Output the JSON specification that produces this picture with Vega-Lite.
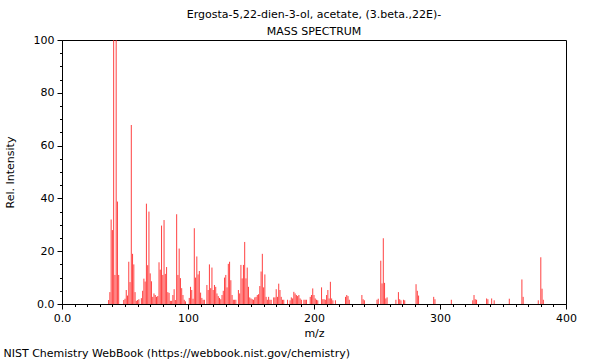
{
  "$schema": "https://vega.github.io/schema/vega-lite/v6.json",
  "width": 504,
  "height": 264,
  "autosize": {"type": "none"},
  "padding": {"left": 62, "top": 40, "right": 34, "bottom": 56},
  "background": "white",
  "config": {
    "view": {"stroke": "black", "strokeWidth": 1},
    "font": "DejaVu Sans",
    "title": {"lineHeight": 17},
    "axis": {"labelFont": "DejaVu Sans", "titleFont": "DejaVu Sans", "labelColor": "black", "titleColor": "black", "tickColor": "black", "domainColor": "black", "grid": false, "labelFontSize": 11, "titleFontSize": 11, "titleFontWeight": "normal"}
  },
  "title": {
    "text": ["Ergosta-5,22-dien-3-ol, acetate, (3.beta.,22E)-", "MASS SPECTRUM"],
    "font": "DejaVu Sans",
    "fontSize": 11,
    "fontWeight": "normal",
    "color": "black",
    "anchor": "middle",
    "offset": -3,
    "lineHeight": 17
  },
  "data": {
    "values": [
      {"mz": 37, "intensity": 1.5}, {"mz": 38, "intensity": 4.5}, {"mz": 39, "intensity": 32}, {"mz": 40, "intensity": 28},
      {"mz": 41, "intensity": 100}, {"mz": 42, "intensity": 11}, {"mz": 43, "intensity": 100}, {"mz": 44, "intensity": 38.8},
      {"mz": 45, "intensity": 11}, {"mz": 49, "intensity": 1.5}, {"mz": 50, "intensity": 2}, {"mz": 51, "intensity": 5.3},
      {"mz": 52, "intensity": 3.2}, {"mz": 53, "intensity": 16}, {"mz": 54, "intensity": 8.3}, {"mz": 55, "intensity": 67.8},
      {"mz": 56, "intensity": 19}, {"mz": 57, "intensity": 15}, {"mz": 58, "intensity": 4.5}, {"mz": 59, "intensity": 1.2},
      {"mz": 60, "intensity": 1.5}, {"mz": 61, "intensity": 1.8}, {"mz": 63, "intensity": 2.2}, {"mz": 64, "intensity": 5},
      {"mz": 65, "intensity": 9.6}, {"mz": 66, "intensity": 8.5}, {"mz": 67, "intensity": 38}, {"mz": 68, "intensity": 14.7},
      {"mz": 69, "intensity": 35}, {"mz": 70, "intensity": 11.6}, {"mz": 71, "intensity": 8.6}, {"mz": 72, "intensity": 2.7},
      {"mz": 73, "intensity": 4}, {"mz": 74, "intensity": 3.4}, {"mz": 75, "intensity": 2.7}, {"mz": 76, "intensity": 3},
      {"mz": 77, "intensity": 15.8}, {"mz": 78, "intensity": 13}, {"mz": 79, "intensity": 29.7}, {"mz": 80, "intensity": 11},
      {"mz": 81, "intensity": 31.8}, {"mz": 82, "intensity": 11.4}, {"mz": 83, "intensity": 14}, {"mz": 84, "intensity": 4.5},
      {"mz": 85, "intensity": 4.2}, {"mz": 86, "intensity": 1.2}, {"mz": 87, "intensity": 1.2}, {"mz": 88, "intensity": 3.4},
      {"mz": 89, "intensity": 5.6}, {"mz": 90, "intensity": 1.5}, {"mz": 91, "intensity": 34}, {"mz": 92, "intensity": 11},
      {"mz": 93, "intensity": 21}, {"mz": 94, "intensity": 9.8}, {"mz": 95, "intensity": 6}, {"mz": 96, "intensity": 3.4},
      {"mz": 97, "intensity": 1.6}, {"mz": 98, "intensity": 1}, {"mz": 101, "intensity": 2.3}, {"mz": 102, "intensity": 6.5},
      {"mz": 103, "intensity": 5.3}, {"mz": 104, "intensity": 2}, {"mz": 105, "intensity": 28.7}, {"mz": 106, "intensity": 10},
      {"mz": 107, "intensity": 18}, {"mz": 108, "intensity": 11.2}, {"mz": 109, "intensity": 12.5}, {"mz": 110, "intensity": 4.3},
      {"mz": 111, "intensity": 2.3}, {"mz": 112, "intensity": 1.6}, {"mz": 113, "intensity": 1.6}, {"mz": 115, "intensity": 7.2},
      {"mz": 116, "intensity": 5.3}, {"mz": 117, "intensity": 15}, {"mz": 118, "intensity": 6}, {"mz": 119, "intensity": 13.8},
      {"mz": 120, "intensity": 5.3}, {"mz": 121, "intensity": 7.2}, {"mz": 122, "intensity": 6.5}, {"mz": 123, "intensity": 4},
      {"mz": 124, "intensity": 3}, {"mz": 125, "intensity": 2.3}, {"mz": 126, "intensity": 1.8}, {"mz": 127, "intensity": 3.4},
      {"mz": 128, "intensity": 5}, {"mz": 129, "intensity": 10}, {"mz": 130, "intensity": 11}, {"mz": 131, "intensity": 6.3},
      {"mz": 132, "intensity": 15.2}, {"mz": 133, "intensity": 16}, {"mz": 134, "intensity": 9}, {"mz": 135, "intensity": 3.4},
      {"mz": 136, "intensity": 1.6}, {"mz": 137, "intensity": 1.6}, {"mz": 138, "intensity": 1.6}, {"mz": 140, "intensity": 5.3},
      {"mz": 141, "intensity": 4}, {"mz": 142, "intensity": 14.8}, {"mz": 143, "intensity": 9.7}, {"mz": 144, "intensity": 14.8},
      {"mz": 145, "intensity": 23.5}, {"mz": 146, "intensity": 9.7}, {"mz": 147, "intensity": 13.8}, {"mz": 148, "intensity": 6.5},
      {"mz": 149, "intensity": 2.5}, {"mz": 150, "intensity": 2.1}, {"mz": 151, "intensity": 1.8}, {"mz": 152, "intensity": 1.6},
      {"mz": 153, "intensity": 2.5}, {"mz": 154, "intensity": 2.7}, {"mz": 155, "intensity": 3.4}, {"mz": 156, "intensity": 3.7},
      {"mz": 157, "intensity": 6.8}, {"mz": 158, "intensity": 12.3}, {"mz": 159, "intensity": 19}, {"mz": 160, "intensity": 6.3},
      {"mz": 161, "intensity": 11.2}, {"mz": 162, "intensity": 2.7}, {"mz": 163, "intensity": 1.6}, {"mz": 164, "intensity": 2.7},
      {"mz": 165, "intensity": 1.6}, {"mz": 166, "intensity": 1.6}, {"mz": 168, "intensity": 2.5}, {"mz": 169, "intensity": 2.5},
      {"mz": 170, "intensity": 5.6}, {"mz": 171, "intensity": 2.7}, {"mz": 172, "intensity": 7.7}, {"mz": 173, "intensity": 5.3},
      {"mz": 174, "intensity": 2.7}, {"mz": 175, "intensity": 1.6}, {"mz": 176, "intensity": 1.6}, {"mz": 179, "intensity": 1.6},
      {"mz": 181, "intensity": 1.4}, {"mz": 182, "intensity": 2.5}, {"mz": 183, "intensity": 2.1}, {"mz": 184, "intensity": 4.6},
      {"mz": 185, "intensity": 4}, {"mz": 186, "intensity": 3.4}, {"mz": 187, "intensity": 3}, {"mz": 188, "intensity": 3.4},
      {"mz": 189, "intensity": 2.1}, {"mz": 190, "intensity": 1.6}, {"mz": 192, "intensity": 1.6}, {"mz": 193, "intensity": 1.6},
      {"mz": 194, "intensity": 1.6}, {"mz": 197, "intensity": 2.7}, {"mz": 198, "intensity": 3.4}, {"mz": 199, "intensity": 5.9},
      {"mz": 200, "intensity": 3.4}, {"mz": 201, "intensity": 2.1}, {"mz": 202, "intensity": 1.6}, {"mz": 203, "intensity": 1.4},
      {"mz": 206, "intensity": 6.3}, {"mz": 207, "intensity": 1.8}, {"mz": 208, "intensity": 1.8}, {"mz": 209, "intensity": 1.6},
      {"mz": 210, "intensity": 3.4}, {"mz": 211, "intensity": 5.3}, {"mz": 212, "intensity": 2.1}, {"mz": 213, "intensity": 8.4},
      {"mz": 214, "intensity": 2.1}, {"mz": 215, "intensity": 1.4}, {"mz": 217, "intensity": 1.4}, {"mz": 225, "intensity": 2.7},
      {"mz": 226, "intensity": 3.4}, {"mz": 227, "intensity": 3}, {"mz": 228, "intensity": 1.6}, {"mz": 238, "intensity": 3.4},
      {"mz": 239, "intensity": 1.8}, {"mz": 240, "intensity": 1.4}, {"mz": 250, "intensity": 1.6}, {"mz": 251, "intensity": 2},
      {"mz": 253, "intensity": 16.4}, {"mz": 254, "intensity": 7.8}, {"mz": 255, "intensity": 24.9}, {"mz": 256, "intensity": 8},
      {"mz": 257, "intensity": 2.1}, {"mz": 258, "intensity": 2.5}, {"mz": 265, "intensity": 1.6}, {"mz": 267, "intensity": 4.5},
      {"mz": 268, "intensity": 1.8}, {"mz": 269, "intensity": 1.4}, {"mz": 271, "intensity": 1.6}, {"mz": 272, "intensity": 1.4},
      {"mz": 281, "intensity": 7.5}, {"mz": 282, "intensity": 5}, {"mz": 283, "intensity": 3.2}, {"mz": 295, "intensity": 2.7},
      {"mz": 296, "intensity": 1.8}, {"mz": 309, "intensity": 1.6}, {"mz": 326, "intensity": 1.4}, {"mz": 327, "intensity": 3.4},
      {"mz": 328, "intensity": 1.8}, {"mz": 329, "intensity": 1.6}, {"mz": 337, "intensity": 2.1}, {"mz": 338, "intensity": 1.8},
      {"mz": 341, "intensity": 2.1}, {"mz": 343, "intensity": 1.4}, {"mz": 355, "intensity": 2}, {"mz": 365, "intensity": 9.3},
      {"mz": 366, "intensity": 2.7}, {"mz": 378, "intensity": 1.4}, {"mz": 380, "intensity": 17.7}, {"mz": 381, "intensity": 5.8},
      {"mz": 382, "intensity": 1.6}
    ]
  },
  "layer": [
    {
      "mark": {"type": "rule", "color": "#ff2020", "strokeWidth": 1, "opacity": 0.85},
      "encoding": {
        "x": {
          "field": "mz", "type": "quantitative",
          "scale": {"domain": [0, 400], "nice": false, "zero": false},
          "axis": {
            "orient": "bottom",
            "values": [0,10,20,30,40,50,60,70,80,90,100,110,120,130,140,150,160,170,180,190,200,210,220,230,240,250,260,270,280,290,300,310,320,330,340,350,360,370,380,390,400],
            "labelExpr": "datum.value % 100 === 0 ? (datum.value === 0 ? '0.0' : datum.label) : ''",
            "labelOverlap": false,
            "labelFlush": false,
            "labelPadding": 3,
            "tickSize": {"condition": {"test": "datum.value % 100 === 0", "value": 5}, "value": 2.5},
            "title": "m/z",
            "titlePadding": 4
          }
        },
        "y": {
          "field": "intensity", "type": "quantitative",
          "scale": {"domain": [0, 100], "nice": false},
          "axis": {
            "values": [0,5,10,15,20,25,30,35,40,45,50,55,60,65,70,75,80,85,90,95,100],
            "labelExpr": "datum.value % 20 === 0 ? (datum.value === 0 ? '0.0' : datum.label) : ''",
            "labelOverlap": false,
            "labelFlush": false,
            "labelPadding": 3,
            "tickSize": {"condition": {"test": "datum.value % 20 === 0", "value": 5}, "value": 2.5},
            "title": "Rel. Intensity",
            "titlePadding": 18
          }
        },
        "y2": {"datum": 0}
      }
    },
    {
      "mark": {"type": "rule", "opacity": 0},
      "encoding": {
        "x": {
          "field": "mz", "type": "quantitative",
          "axis": {
            "orient": "bottom",
            "domain": false, "ticks": false, "labels": false,
            "title": "NIST Chemistry WebBook (https://webbook.nist.gov/chemistry)",
            "titleAnchor": "start",
            "titleAlign": "left",
            "titleBaseline": "middle",
            "titleX": -59,
            "titleY": 49
          }
        }
      }
    }
  ],
  "resolve": {"axis": {"x": "independent"}}
}
